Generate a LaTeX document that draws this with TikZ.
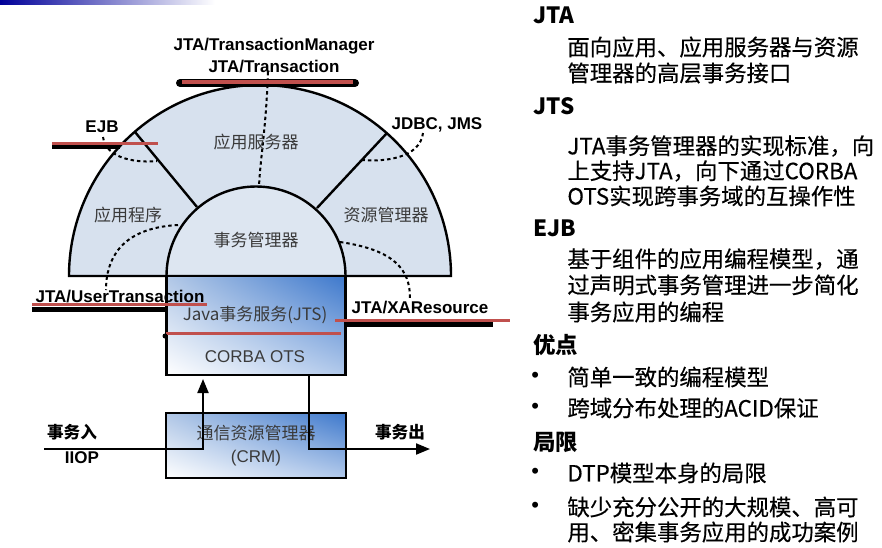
\documentclass[tikz,border=0pt]{standalone}
\usepackage{fontspec}
\setmainfont{Liberation Sans}
\newfontfamily\cjk{Noto Sans CJK SC}
\newfontfamily\cjktexte{Noto Sans CJK SC}[FakeBold=0.35]
\usetikzlibrary{positioning,arrows.meta,shadings}

\definecolor{barrerouge}{HTML}{C0504D}
\definecolor{secteur}{HTML}{D7E1EE}
\definecolor{gristexte}{HTML}{3A3A3A}
\definecolor{bleuboite}{HTML}{3D78CC}

\begin{document}
\begin{tikzpicture}[x=0.5pt,y=-0.5pt,
    lbl/.style={inner sep=0pt, font=\bfseries\fontsize{8.5}{11}\selectfont},
    zone/.style={inner sep=0pt, text=gristexte, font=\cjk\fontsize{8.5}{11.5}\selectfont},
    gras/.style={inner sep=0pt, font=\cjk\bfseries\fontsize{8.3}{10}\selectfont},
    contour/.style={draw, line width=1.2pt},
    pointille/.style={line width=1pt, dash pattern=on 1.7pt off 1.5pt},
    ombre/.style={line width=3pt, line cap=round},
    barre/.style={barrerouge, line width=1.5pt},
    boite/.style={contour, inner sep=0pt, lower left=white, upper left=secteur!70!bleuboite!90!white,
      upper right=bleuboite, lower right=bleuboite!40!white},
    flux/.style={line width=1pt, -{Triangle[length=7pt,width=5.5pt]}},
    titre/.style={anchor=west, inner sep=0pt, font=\cjk\bfseries\fontsize{11.2}{13}\selectfont},
    ligne/.style={anchor=west, inner sep=0pt, font=\cjktexte\fontsize{11.2}{13}\selectfont},
    puce/.style={anchor=west, inner sep=0pt, font=\fontsize{11}{13}\selectfont}]

  \useasboundingbox (0,0) rectangle (882,547);

  % Bandeau en haut
  \shade[left color=blue!60!black, right color=white] (0,0) rectangle (215,4);

  % Demi-cercle des composants
  \draw[contour, fill=secteur] (69,276) arc[start angle=180, end angle=360, radius=191] -- cycle;

  % Liens en pointille
  \draw[pointille] (268,72) .. controls (266,130) and (260,160) .. (259,187);
  \draw[pointille] (103,137) .. controls (106,160) and (140,163) .. (157,161);
  \draw[pointille] (423,133) .. controls (420,158) and (385,162) .. (362,160);
  \draw[pointille] (178,225) .. controls (120,228) and (106,260) .. (106,290);
  \draw[pointille] (340,242) .. controls (395,250) and (410,270) .. (410,298);

  % Separations radiales
  \draw[contour] (135,132) -- (197,207);
  \draw[contour] (387,133) -- (317,208);
  \draw[contour, fill=secteur!85!white] (166.5,276) arc[start angle=180, end angle=360, radius=89.5] -- cycle;

  % Boite JTS / OTS
  \node[boite, minimum width=89.5pt, minimum height=49.5pt] (jts) at (256,325.5) {};
  \node[zone] (jtslbl) at (255,315) {Java{\cjk 事务服务}(JTS)};
  \node[zone, font=\fontsize{8.5}{10}\selectfont] (ots) at (255,357) {CORBA OTS};

  % Barres d'interface
  \draw[ombre, line width=4pt] (180,83) -- (355,83);
  \draw[barre, line width=2pt] (182,81.5) -- (353,81.5);
  \draw[ombre, line cap=butt] (52,146) -- (120,146);
  \draw[barre] (52,143) -- (158,143);
  \draw[ombre, line width=2.5pt, line cap=butt] (32,309) -- (166,309);
  \draw[barre] (32,304) -- (207,304);
  \draw[ombre, line width=2.5pt, line cap=butt] (345,324) -- (493,324);
  \draw[barre] (335,320) -- (510,320);
  \draw[barre] (166,333) -- (341,333);
  \fill (165,336) circle (2.5);

  % Noms des interfaces
  \node[lbl, align=center] (tm) at (274,56) {JTA/TransactionManager\\JTA/Transaction};
  \node[lbl] (ejb) at (102,127) {EJB};
  \node[lbl] (jdbc) at (437,125) {JDBC, JMS};
  \node[lbl] (ut) at (120,297) {JTA/UserTransaction};
  \node[lbl] (xa) at (420,308) {JTA/XAResource};

  % Zones
  \node[zone] (as) at (256,142) {应用服务器};
  \node[zone] (app) at (128,215) {应用程序};
  \node[zone] (rm) at (386,215) {资源管理器};
  \node[zone] (tmg) at (256,240) {事务管理器};

  % Gestionnaire de communication
  \node[boite, minimum width=90pt, minimum height=32.5pt, align=center, zone] (crm) at (256,445.5)
    {通信资源管理器\\{\fontsize{8.5}{11.5}\selectfont\rmfamily\mdseries (CRM)}};

  \coordinate (iiop) at (44,449);
  \coordinate (monte) at (203,379);
  \coordinate (descend) at (309,375);
  \coordinate (sortie) at (430,449);
  \draw[flux] (iiop) -| (monte);
  \draw[flux] (descend) |- (sortie);

  \node[gras] (entree) at (72,432) {事务入};
  \node[lbl] (iiopl) at (82,458) {IIOP};
  \node[gras] (sortiel) at (400,432) {事务出};

  % Texte de droite
  \node[titre] (hjta) at (533,15) {JTA};
  \node[ligne] (jta1) at (567,47) {面向应用、应用服务器与资源};
  \node[ligne] (jta2) at (567,73) {管理器的高层事务接口};
  \node[titre] (hjts) at (533,106) {JTS};
  \node[ligne] (jts1) at (567,146) {JTA事务管理器的实现标准，向};
  \node[ligne] (jts2) at (567,171) {上支持JTA，向下通过CORBA};
  \node[ligne] (jts3) at (567,196) {OTS实现跨事务域的互操作性};
  \node[titre] (hejb) at (533,228) {EJB};
  \node[ligne] (ejb1) at (567,259) {基于组件的应用编程模型，通};
  \node[ligne] (ejb2) at (567,285) {过声明式事务管理进一步简化};
  \node[ligne] (ejb3) at (567,312) {事务应用的编程};
  \node[titre] (hadv) at (533,345) {优点};
  \node[puce] (b1) at (531,377) {•};
  \node[ligne] (adv1) at (567,377) {简单一致的编程模型};
  \node[puce] (b2) at (531,408) {•};
  \node[ligne] (adv2) at (567,408) {跨域分布处理的ACID保证};
  \node[titre] (hlim) at (533,442) {局限};
  \node[puce] (b3) at (531,473) {•};
  \node[ligne] (lim1) at (567,473) {DTP模型本身的局限};
  \node[puce] (b4) at (531,507) {•};
  \node[ligne] (lim2) at (567,507) {缺少充分公开的大规模、高可};
  \node[ligne] (lim3) at (567,532) {用、密集事务应用的成功案例};
\end{tikzpicture}
\end{document}
